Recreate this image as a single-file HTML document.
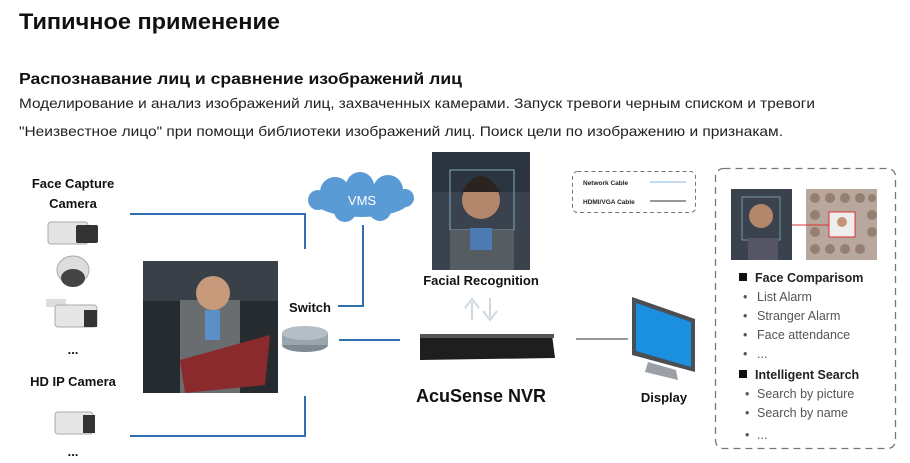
<!DOCTYPE html>
<html><head><meta charset="utf-8"><style>
html,body{margin:0;padding:0;background:#fff;}
svg{display:block;font-family:"Liberation Sans",sans-serif;}
</style></head><body>
<svg width="910" height="463" viewBox="0 0 910 463" xmlns="http://www.w3.org/2000/svg">
<rect width="910" height="463" fill="#fff"/>
<text x="19" y="29" font-size="22" font-weight="bold" fill="#111" textLength="261" lengthAdjust="spacingAndGlyphs">Типичное применение</text>
<text x="19" y="84" font-size="16" font-weight="bold" fill="#111" textLength="443" lengthAdjust="spacingAndGlyphs">Распознавание лиц и сравнение изображений лиц</text>
<text x="19" y="108" font-size="14" fill="#222" textLength="796" lengthAdjust="spacingAndGlyphs">Моделирование и анализ изображений лиц, захваченных камерами. Запуск тревоги черным списком и тревоги</text>
<text x="19" y="136" font-size="14" fill="#222" textLength="764" lengthAdjust="spacingAndGlyphs">"Неизвестное лицо" при помощи библиотеки изображений лиц. Поиск цели по изображению и признакам.</text>

<!-- left labels -->
<g font-weight="bold" font-size="13" fill="#111" text-anchor="middle">
<text x="73" y="188">Face Capture</text>
<text x="73" y="208">Camera</text>
<text x="73" y="354">...</text>
<text x="73" y="386">HD IP Camera</text>
<text x="73" y="456">...</text>
<text x="310" y="312">Switch</text>
<text x="481" y="285">Facial Recognition</text>
<text x="481" y="402" font-size="18">AcuSense NVR</text>
<text x="664" y="402">Display</text>
</g>

<!-- cameras -->
<g>
<rect x="48" y="222" width="40" height="22" rx="3" fill="#e4e4e4" stroke="#aaa"/>
<rect x="76" y="225" width="22" height="18" rx="2" fill="#333"/>
<ellipse cx="73" cy="270" rx="16" ry="14" fill="#ddd" stroke="#aaa"/>
<ellipse cx="73" cy="278" rx="12" ry="9" fill="#444"/>
<rect x="46" y="299" width="20" height="8" fill="#ddd"/>
<rect x="55" y="305" width="42" height="22" rx="3" fill="#e6e6e6" stroke="#aaa"/>
<rect x="84" y="310" width="13" height="17" fill="#333"/>
<rect x="55" y="412" width="38" height="22" rx="3" fill="#e6e6e6" stroke="#aaa"/>
<rect x="83" y="415" width="12" height="18" fill="#333"/>
</g>

<!-- blue network lines -->
<g stroke="#2f6fb1" stroke-width="2" fill="none">
<polyline points="130,214 305,214 305,249"/>
<polyline points="130,436 305,436 305,396"/>
<polyline points="363,225 363,306 338,306"/>
<line x1="339" y1="340" x2="400" y2="340"/>
</g>
<line x1="576" y1="339" x2="628" y2="339" stroke="#777" stroke-width="1.5"/>

<!-- VMS cloud -->
<g fill="#5b9bd5">
<ellipse cx="362" cy="200" rx="48" ry="17"/>
<circle cx="335" cy="192" r="15"/><circle cx="360" cy="186" r="14"/><circle cx="388" cy="190" r="15"/>
<circle cx="345" cy="211" r="11"/><circle cx="380" cy="210" r="11"/><circle cx="318" cy="200" r="10"/><circle cx="405" cy="198" r="9"/>
</g>
<text x="362" y="205" font-size="13" fill="#fff" text-anchor="middle">VMS</text>

<!-- switch -->
<ellipse cx="305" cy="345" rx="23" ry="7" fill="#7d8a94"/>
<rect x="282" y="333" width="46" height="12" fill="#9aa6ae"/>
<ellipse cx="305" cy="333" rx="23" ry="7" fill="#b5bec5"/>

<!-- man image -->
<rect x="143" y="261" width="135" height="132" fill="#262b30"/>
<rect x="143" y="261" width="135" height="40" fill="#3a4048"/>
<rect x="180" y="300" width="60" height="93" fill="#6a6d70"/>
<circle cx="213" cy="293" r="17" fill="#c79a7c"/>
<rect x="205" y="310" width="15" height="30" fill="#5a8fc8"/>
<polygon points="180,360 270,335 265,385 185,393" fill="#8b2a2c"/>

<!-- face image -->
<rect x="432" y="152" width="98" height="118" fill="#3a434d"/>
<rect x="432" y="152" width="98" height="40" fill="#2a3540"/>
<rect x="450" y="170" width="64" height="60" fill="none" stroke="#8ab" stroke-width="1"/>
<circle cx="481" cy="200" r="19" fill="#b3876b"/>
<path d="M462 192 Q481 160 500 192 Z" fill="#2b2320"/>
<rect x="450" y="230" width="64" height="40" fill="#555c62"/>
<rect x="470" y="228" width="22" height="22" fill="#4d7ab0"/>

<!-- arrows -->
<g fill="none" stroke="#cfd8e0" stroke-width="2">
<path d="M472 320 L472 302 M465 308 L472 299 L479 308"/>
<path d="M490 298 L490 317 M483 311 L490 320 L497 311"/>
</g>

<!-- NVR -->
<polygon points="420,338 552,335 555,358 420,360" fill="#1e1e1e"/>
<rect x="420" y="334" width="134" height="4" fill="#555"/>

<!-- monitor -->
<polygon points="632,297 695,319 695,372 632,355" fill="#4a4f55"/>
<polygon points="636,303 691,322 691,367 636,351" fill="#1b8fe0"/>
<polygon points="648,362 676,370 678,380 645,372" fill="#9aa0a6"/>

<!-- legend -->
<rect x="572.5" y="171.5" width="123" height="41" rx="5" fill="none" stroke="#777" stroke-dasharray="4,3"/>
<text x="583" y="185" font-size="6.5" font-weight="bold" fill="#222">Network Cable</text>
<text x="583" y="204" font-size="6.5" font-weight="bold" fill="#222">HDMI/VGA Cable</text>
<line x1="650" y1="182" x2="686" y2="182" stroke="#8ab4dc" stroke-width="1"/>
<line x1="650" y1="201" x2="686" y2="201" stroke="#333" stroke-width="1"/>

<!-- right box -->
<rect x="715.5" y="168.5" width="180" height="280" rx="8" fill="none" stroke="#777" stroke-width="1.3" stroke-dasharray="7,5"/>
<rect x="731" y="189" width="61" height="71" fill="#3a434d"/>
<rect x="742" y="197" width="38" height="43" fill="none" stroke="#8ab" stroke-width="0.8"/>
<circle cx="761" cy="216" r="12" fill="#b3876b"/>
<rect x="748" y="238" width="30" height="22" fill="#556"/>
<rect x="806" y="189" width="71" height="71" fill="#b7a79d"/>
<g fill="#8a6e60" opacity="0.7">
<circle cx="815" cy="198" r="5"/><circle cx="830" cy="198" r="5"/><circle cx="845" cy="198" r="5"/><circle cx="860" cy="198" r="5"/><circle cx="872" cy="198" r="4"/>
<circle cx="815" cy="215" r="5"/><circle cx="815" cy="232" r="5"/><circle cx="815" cy="249" r="5"/><circle cx="830" cy="249" r="5"/><circle cx="845" cy="249" r="5"/><circle cx="860" cy="249" r="5"/><circle cx="872" cy="232" r="5"/><circle cx="872" cy="215" r="5"/>
</g>
<rect x="829" y="212" width="26" height="25" fill="#eee" stroke="#d33" stroke-width="1"/>
<circle cx="842" cy="222" r="5" fill="#c59478"/>
<line x1="792" y1="225" x2="829" y2="225" stroke="#d33" stroke-width="1"/>

<g font-size="12.5" fill="#222">
<rect x="739" y="273" width="8" height="8" fill="#111"/>
<text x="755" y="282" font-weight="bold">Face Comparisom</text>
<rect x="739" y="370" width="8" height="8" fill="#111"/>
<text x="755" y="379" font-weight="bold">Intelligent Search</text>
</g>
<g font-size="12.5" fill="#555">
<text x="743" y="301">•</text><text x="757" y="301">List Alarm</text>
<text x="743" y="320">•</text><text x="757" y="320">Stranger Alarm</text>
<text x="743" y="339">•</text><text x="757" y="339">Face attendance</text>
<text x="743" y="358">•</text><text x="757" y="358">...</text>
<text x="745" y="398">•</text><text x="757" y="398">Search by picture</text>
<text x="745" y="417">•</text><text x="757" y="417">Search by name</text>
<text x="745" y="439">•</text><text x="757" y="439">...</text>
</g>
</svg>
</body></html>
